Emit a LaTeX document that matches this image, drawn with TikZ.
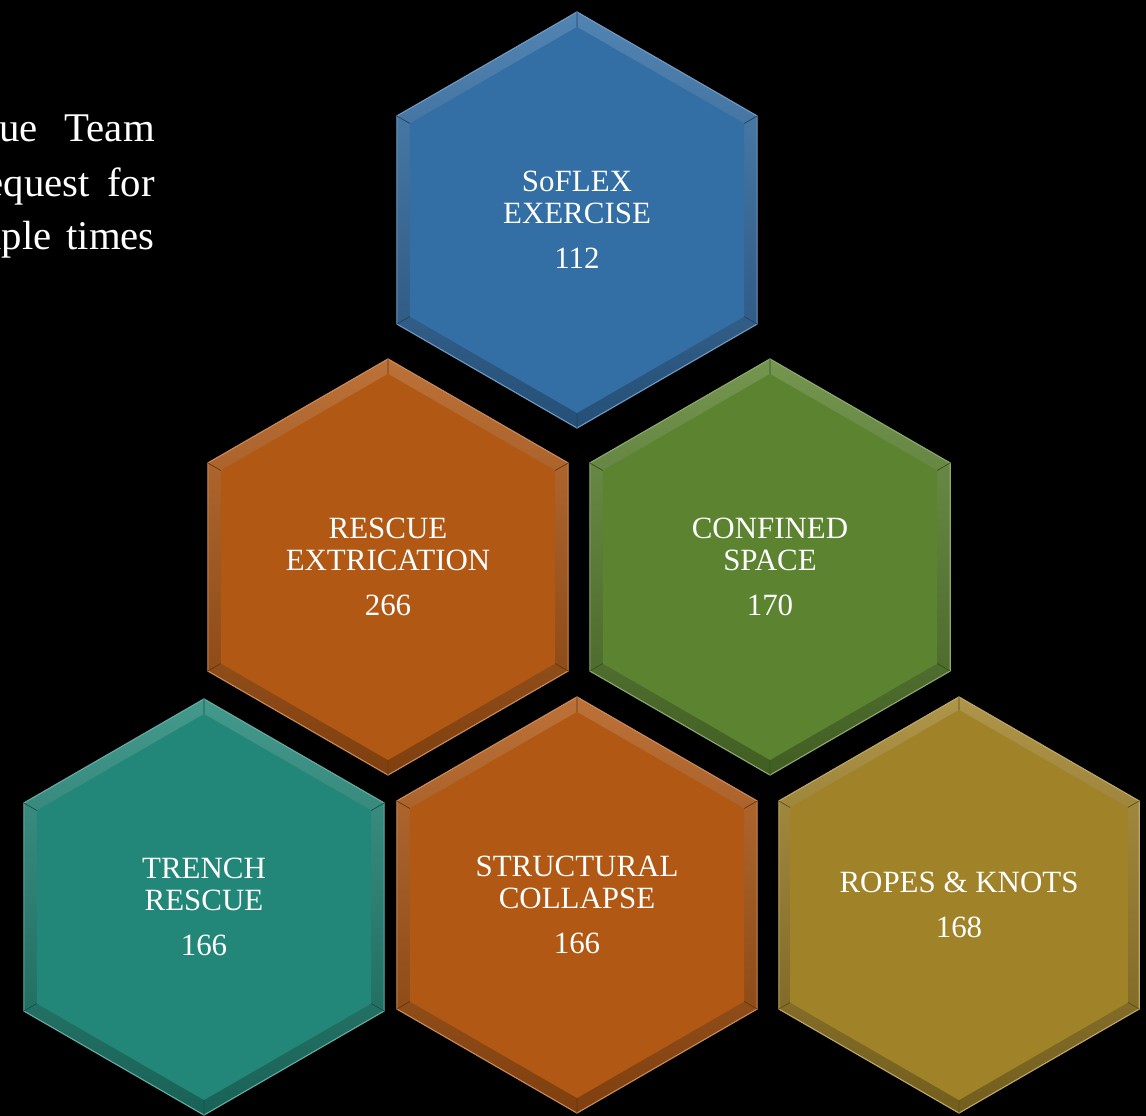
\documentclass[tikz,border=0pt]{standalone}
\usepackage{fontspec}
\setmainfont{Liberation Serif}
\usetikzlibrary{shapes.geometric}
\definecolor{hexblue}{HTML}{336EA5}
\definecolor{hexorange}{HTML}{B05814}
\definecolor{hexgreen}{HTML}{5B8330}
\definecolor{hexteal}{HTML}{228778}
\definecolor{hexgold}{HTML}{A08228}
\tikzset{hexouter/.style={regular polygon, regular polygon sides=6, shape border rotate=30,
           minimum size=10.4cm, inner sep=0pt, outer sep=0pt, draw=#1!70!white, line width=0.8pt,
           top color=#1!85!white, bottom color=#1!72!black},
         hexinner/.style={regular polygon, regular polygon sides=6, shape border rotate=30,
           minimum size=9.65cm, inner sep=0pt, outer sep=0pt, fill=#1, text=white, align=center,
           font=\fontsize{22}{23}\selectfont},
         bevel/.style={draw=#1!60!black, line width=0.5pt},
         sidetext/.style={anchor=base east, text=white, inner sep=0pt, font=\fontsize{29}{30}\selectfont}}

\begin{document}
\begin{tikzpicture}[x=0.025cm,y=-0.025cm]
   \fill[black] (0,0) rectangle (1146,1116);
   \useasboundingbox (0,0) rectangle (1146,1116);
   \clip (0,0) rectangle (1146,1116);
   % justified text, cut off at the left edge
   \node[sidetext] (w1a) at (38,142)  {ue};
   \node[sidetext] (w1b) at (155,142) {Team};
   \node[sidetext] (w2a) at (90,197)  {equest};
   \node[sidetext] (w2b) at (155,197) {for};
   \node[sidetext] (w3a) at (52,250)  {iple};
   \node[sidetext] (w3b) at (155,250) {times};
   % top row
   \node[hexouter=hexblue] (soflex) at (577,220) {};
   \node[hexinner=hexblue] (soflex-in) at (soflex.center) {SoFLEX\\EXERCISE\\[9pt]112};
   % middle row
   \node[hexouter=hexorange] (extric) at (388,567) {};
   \node[hexinner=hexorange] (extric-in) at (extric.center) {RESCUE\\EXTRICATION\\[9pt]266};
   \node[hexouter=hexgreen] (confined) at (770,567) {};
   \node[hexinner=hexgreen] (confined-in) at (confined.center) {CONFINED\\SPACE\\[9pt]170};
   % bottom row
   \node[hexouter=hexteal] (trench) at (204,907) {};
   \node[hexinner=hexteal] (trench-in) at (trench.center) {TRENCH\\RESCUE\\[9pt]166};
   \node[hexouter=hexorange] (collapse) at (577,905) {};
   \node[hexinner=hexorange] (collapse-in) at (collapse.center) {STRUCTURAL\\COLLAPSE\\[9pt]166};
   \node[hexouter=hexgold] (ropes) at (959,905) {};
   \node[hexinner=hexgold] (ropes-in) at (ropes.center) {ROPES \& KNOTS\\[9pt]168};
   % bevel edges
   \foreach \h/\c in {soflex/hexblue,extric/hexorange,confined/hexgreen,
                      trench/hexteal,collapse/hexorange,ropes/hexgold}
     \foreach \a in {30,90,...,330}
       \draw[bevel=\c] (\h.\a) -- (\h-in.\a);
\end{tikzpicture}
\end{document}
